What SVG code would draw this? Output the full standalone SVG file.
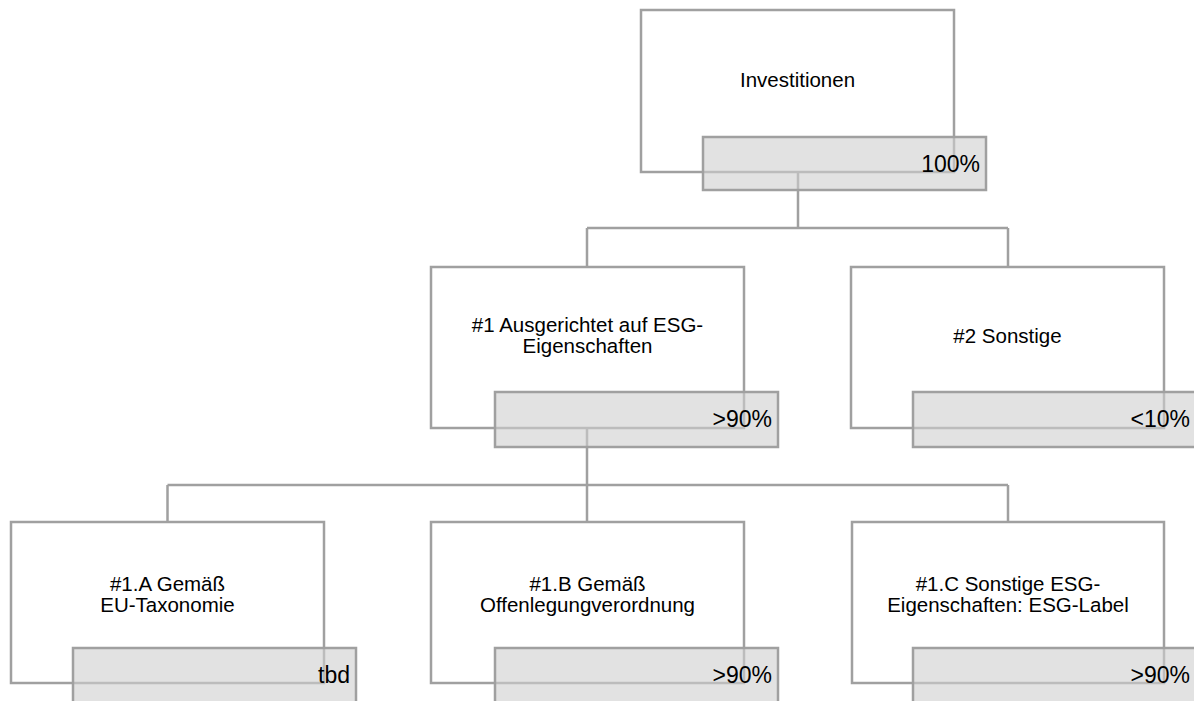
<svg xmlns="http://www.w3.org/2000/svg" width="1194" height="701" viewBox="0 0 1194 701">
<style>
.box{fill:#ffffff;stroke:#a0a0a0;stroke-width:2.5}
.pct{fill:#cfcfcf;fill-opacity:0.6;stroke:#a0a0a0;stroke-width:2.5}
.con{fill:none;stroke:#a0a0a0;stroke-width:2.5}
.lbl{font-family:"Liberation Sans",Arial,sans-serif;font-size:20.5px;fill:#000;text-anchor:middle}
.val{font-family:"Liberation Sans",Arial,sans-serif;font-size:23px;fill:#000;text-anchor:end}
</style>
<rect width="1194" height="701" fill="#ffffff"/>
<g id="connectors">
<path class="con" d="M798,172 V228 M587,228 H1008 M587,228 V267 M1008,228 V267"/>
<path class="con" d="M587,428 V485 M167.5,485 H1008 M167.5,485 V522 M587,485 V522 M1008,485 V522"/>
</g>
<g id="node-investitionen">
<rect class="box" x="641" y="10" width="313" height="162"/>
<text class="lbl" x="797.5" y="87">Investitionen</text>
<rect class="pct" x="703" y="137" width="283" height="53"/>
<text class="val" x="980" y="172">100%</text>
</g>
<g id="node-1">
<rect class="box" x="431" y="267" width="313" height="161"/>
<text class="lbl" x="587.5" y="332">#1 Ausgerichtet auf ESG-</text>
<text class="lbl" x="587.5" y="353">Eigenschaften</text>
<rect class="pct" x="495" y="392" width="283" height="55"/>
<text class="val" x="772" y="427">&gt;90%</text>
</g>
<g id="node-2">
<rect class="box" x="851" y="267" width="313" height="161"/>
<text class="lbl" x="1007.5" y="343">#2 Sonstige</text>
<rect class="pct" x="913" y="392" width="283" height="55"/>
<text class="val" x="1190" y="427">&lt;10%</text>
</g>
<g id="node-1a">
<rect class="box" x="11" y="522" width="313" height="161"/>
<text class="lbl" x="167.5" y="591">#1.A Gemäß</text>
<text class="lbl" x="167.5" y="612">EU-Taxonomie</text>
<rect class="pct" x="73" y="648" width="283" height="55"/>
<text class="val" x="350" y="683">tbd</text>
</g>
<g id="node-1b">
<rect class="box" x="431" y="522" width="313" height="161"/>
<text class="lbl" x="587.5" y="591">#1.B Gemäß</text>
<text class="lbl" x="587.5" y="612">Offenlegungverordnung</text>
<rect class="pct" x="495" y="648" width="283" height="55"/>
<text class="val" x="772" y="683">&gt;90%</text>
</g>
<g id="node-1c">
<rect class="box" x="852" y="522" width="312" height="161"/>
<text class="lbl" x="1008" y="591">#1.C Sonstige ESG-</text>
<text class="lbl" x="1008" y="612">Eigenschaften: ESG-Label</text>
<rect class="pct" x="913" y="648" width="283" height="55"/>
<text class="val" x="1190" y="683">&gt;90%</text>
</g>
</svg>
